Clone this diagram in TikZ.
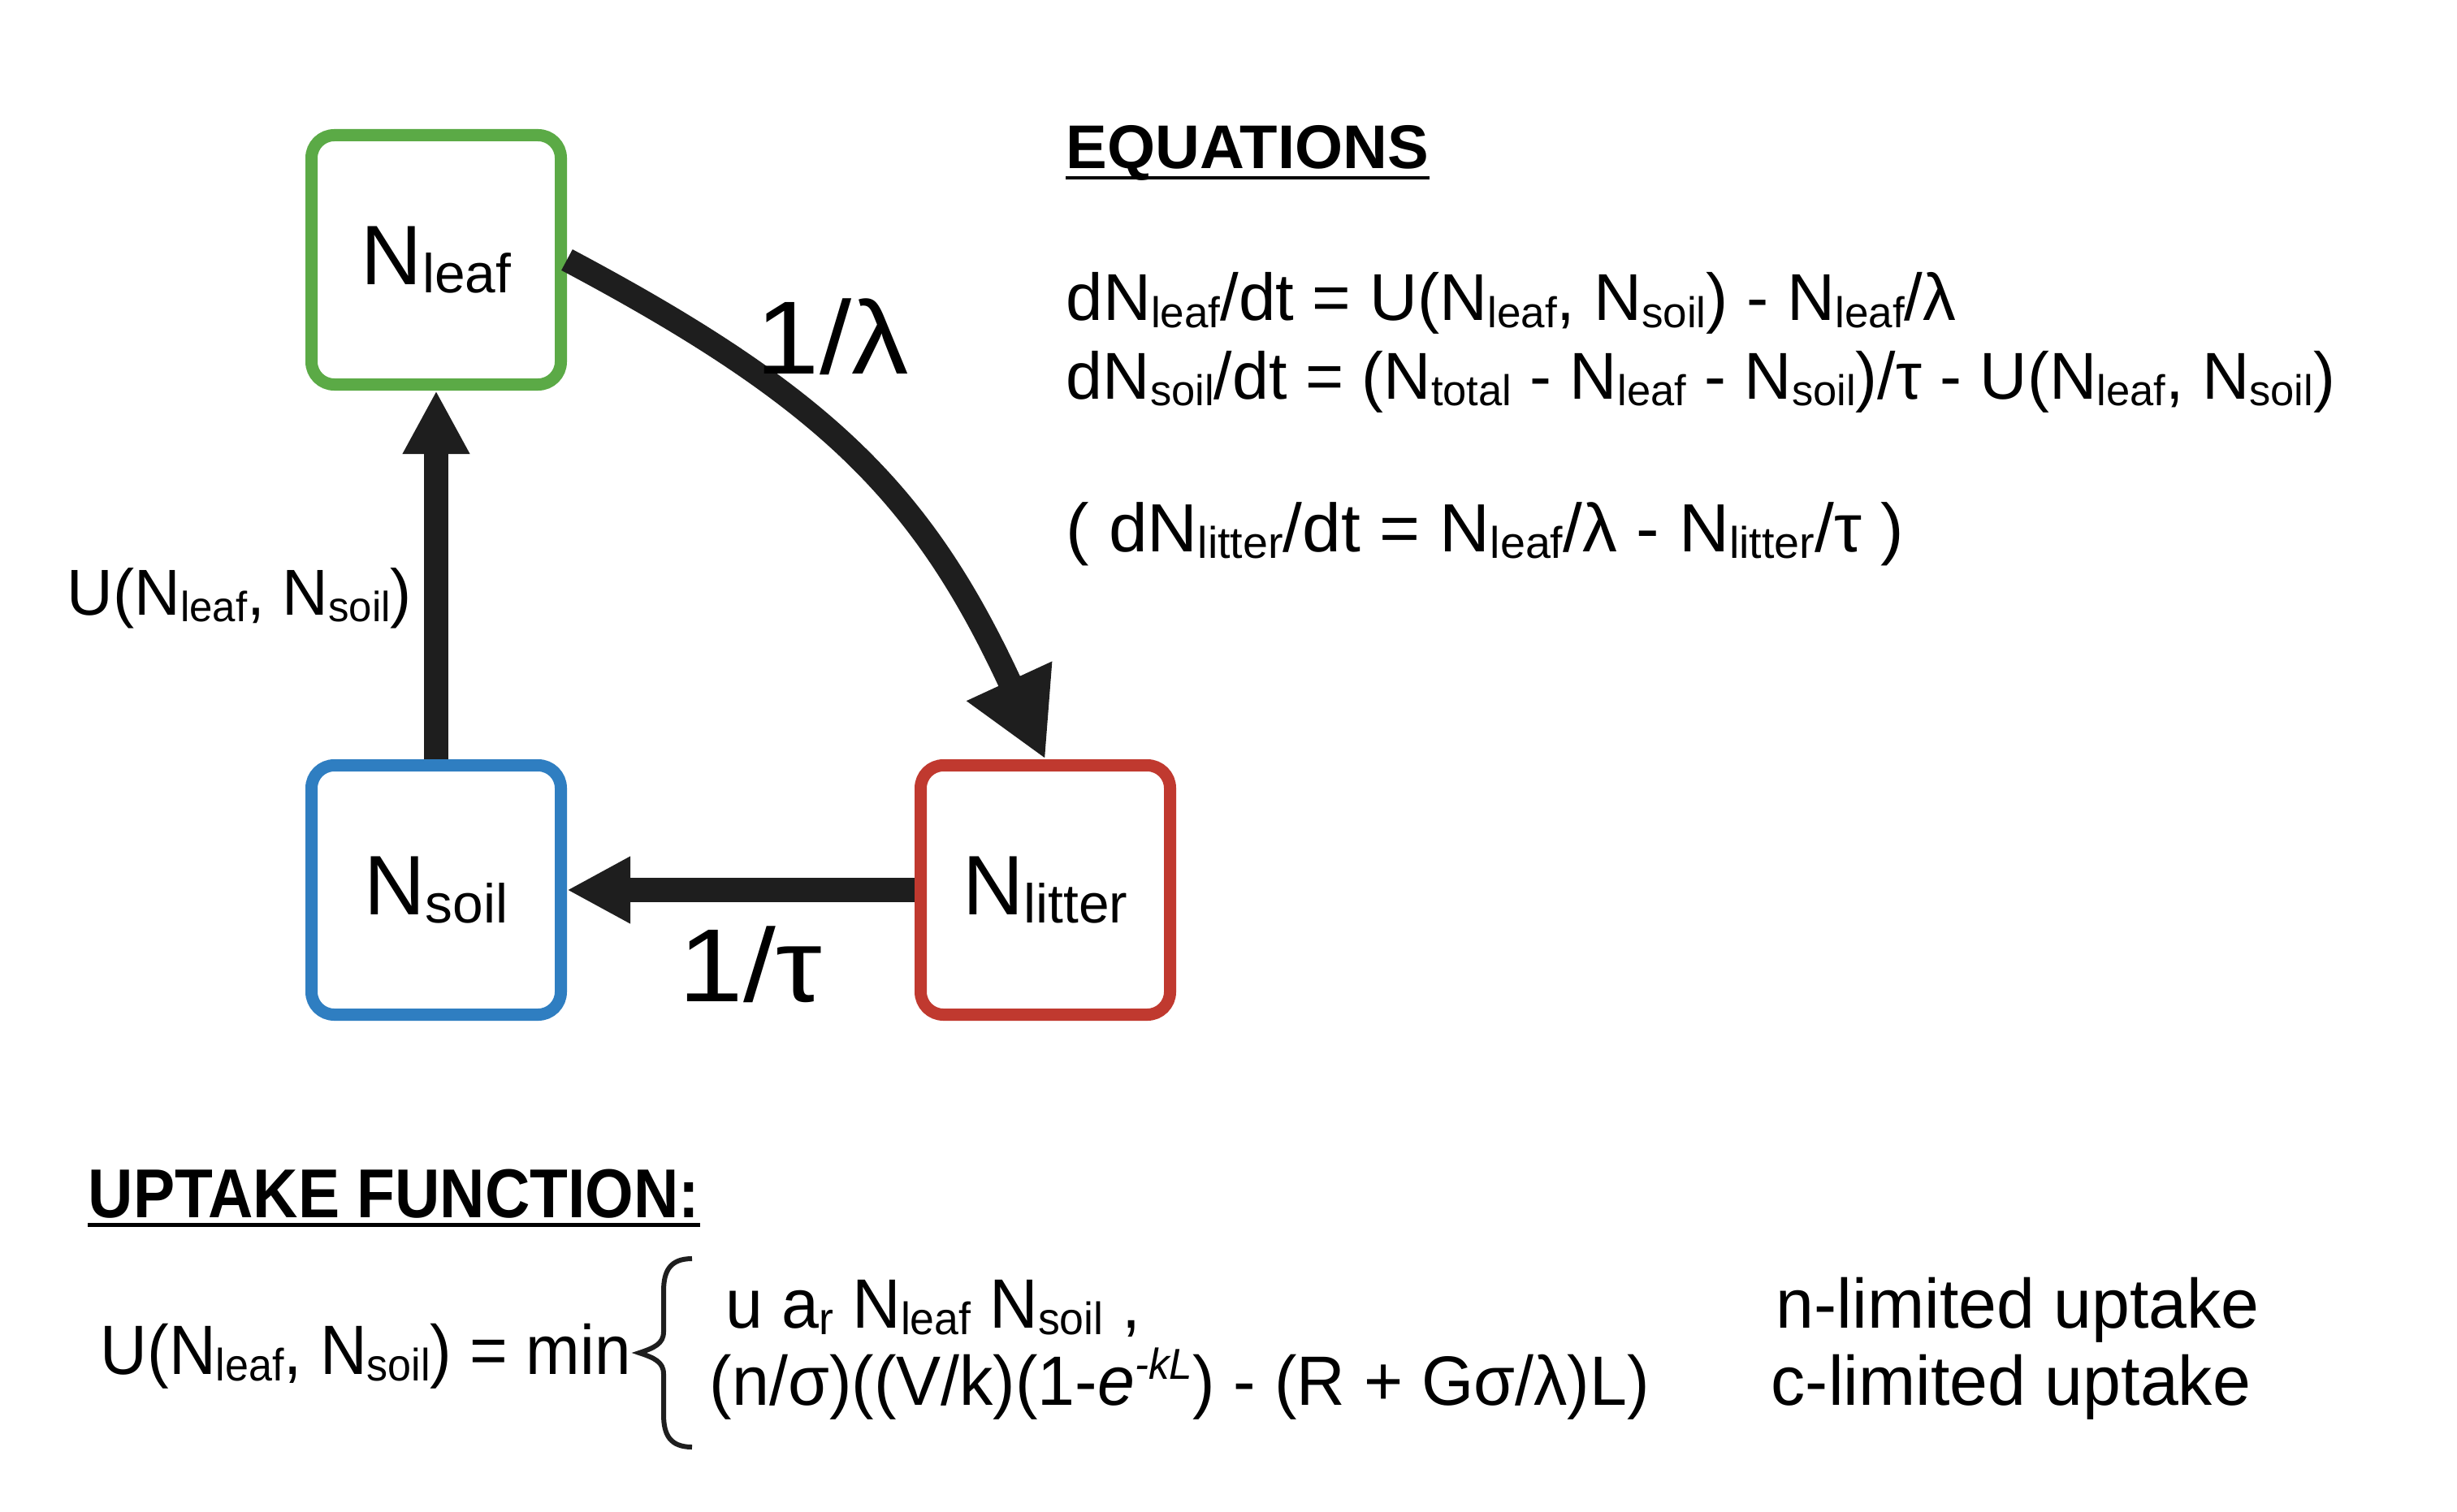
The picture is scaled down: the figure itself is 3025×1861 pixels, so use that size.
\documentclass[tikz,border=0pt]{standalone}
\usepackage{fontspec}
\setmainfont{Liberation Sans}
\usetikzlibrary{arrows.meta,calc}
\newcommand{\sbt}[1]{\raisebox{-0.1em}{\scalebox{0.65}{#1}}}
\newcommand{\spt}[1]{\raisebox{0.37em}{\scalebox{0.62}{#1}}}
\newcommand{\hsc}[2]{\scalebox{#1}[1]{#2}}
\definecolor{leafgreen}{HTML}{5BAA46}
\definecolor{soilblue}{HTML}{2F7EC1}
\definecolor{litterred}{HTML}{C0392F}
\definecolor{arrowgray}{HTML}{1E1E1E}
\begin{document}
\begin{tikzpicture}[x=0.25pt,y=-0.25pt,
  pool/.style={draw, line width=3.75pt, rounded corners=7pt, minimum width=76.75pt,
    minimum height=76.75pt, inner sep=0pt, fill=white, font=\fontsize{26}{30}\selectfont},
  flow/.style={draw=arrowgray, line width=7.5pt, -{Triangle[length=19.5pt,width=19.25pt]}},
  bigflow/.style={draw=arrowgray, line width=7.3pt, -{Triangle[length=26.5pt,width=27pt]}},
  txt/.style={anchor=base west, inner sep=0pt},
  eqfont/.style={font=\fontsize{20.4}{24}\selectfont},
  upfont/.style={font=\fontsize{21.5}{26}\selectfont},
  ratefont/.style={font=\fontsize{32}{36}\selectfont},
  headline/.style={line width=1.1pt}
]
\fill[white] (0,0) rectangle (3025,1861);
\useasboundingbox (0,0) rectangle (3025,1861);

% pools
\node[pool, draw=leafgreen] (leaf) at (537,320) {N\sbt{leaf}};
\node[pool, draw=soilblue] (soil) at (537,1096) {N\sbt{soil}};
\node[pool, draw=litterred] (litter) at (1287,1096) {N\sbt{litter}};

% flows
\draw[flow] (soil.north) -- (leaf.south);
\draw[flow] (litter.west) -- (soil.east);
\draw[bigflow] (leaf.east) .. controls ($(leaf.east)+(318,169)$) and ($(litter.north)+(-151,-327)$) .. (litter.north);

% flow labels
\node[txt, ratefont] (lam) at (930,460) {\hsc{1.1}{1/λ}};
\node[txt, ratefont] (tau) at (835,1233) {\hsc{1.12}{1/τ}};
\node[txt, font=\fontsize{20}{24}\selectfont] (uplabel) at (82,757) {\hsc{0.98}{U(N\sbt{leaf}, N\sbt{soil})}};

% equations
\node[txt, font=\fontsize{19}{22}\bfseries] (eqhead) at (1312,208) {EQUATIONS};
\draw[headline] ([yshift=-2.75pt]eqhead.base west) -- ([yshift=-2.75pt]eqhead.base east);
\node[txt, eqfont] (eq1) at (1312,395) {dN\sbt{leaf}/dt = U(N\sbt{leaf}, N\sbt{soil}) - N\sbt{leaf}/λ};
\node[txt, eqfont] (eq2) at (1312,491) {\hsc{0.99}{dN\sbt{soil}/dt = (N\sbt{total} - N\sbt{leaf} - N\sbt{soil})/τ - U(N\sbt{leaf}, N\sbt{soil})}};
\node[txt, font=\fontsize{21}{25}\selectfont] (eq3) at (1312,679) {\hsc{1.02}{( dN\sbt{litter}/dt = N\sbt{leaf}/λ - N\sbt{litter}/τ )}};

% uptake function
\node[txt, font=\fontsize{21.3}{26}\bfseries] (uphead) at (108,1499) {\hsc{0.9}{UPTAKE FUNCTION:}};
\draw[headline, line width=1.25pt] ([yshift=-2.4pt]uphead.base west) -- ([yshift=-2.4pt]uphead.base east);
\node[txt, upfont] (ufun) at (123,1692) {\hsc{0.93}{U(N\sbt{leaf}, N\sbt{soil}) = min}};
\draw[draw=arrowgray, line width=1.5pt]
  (852,1550) .. controls (825,1550) and (817,1565) .. (817,1590) -- (817,1640)
  .. controls (817,1655) and (805,1660) .. (787,1666)
  .. controls (805,1672) and (817,1677) .. (817,1692) -- (817,1742)
  .. controls (817,1767) and (825,1782) .. (852,1782);
\node[txt, upfont] (nlim) at (893,1635) {\hsc{0.96}{u a\sbt{r} N\sbt{leaf} N\sbt{soil} ,}};
\node[txt, upfont] (clim) at (873,1730) {\hsc{0.96}{(n/σ)((V/k)(1-\textit{e}\spt{\textit{-kL}}) - (R + Gσ/λ)L)}};
\node[txt, upfont] (nlab) at (2186,1635) {\hsc{0.98}{n-limited uptake}};
\node[txt, upfont] (clab) at (2180,1730) {\hsc{0.98}{c-limited uptake}};
\end{tikzpicture}
\end{document}
